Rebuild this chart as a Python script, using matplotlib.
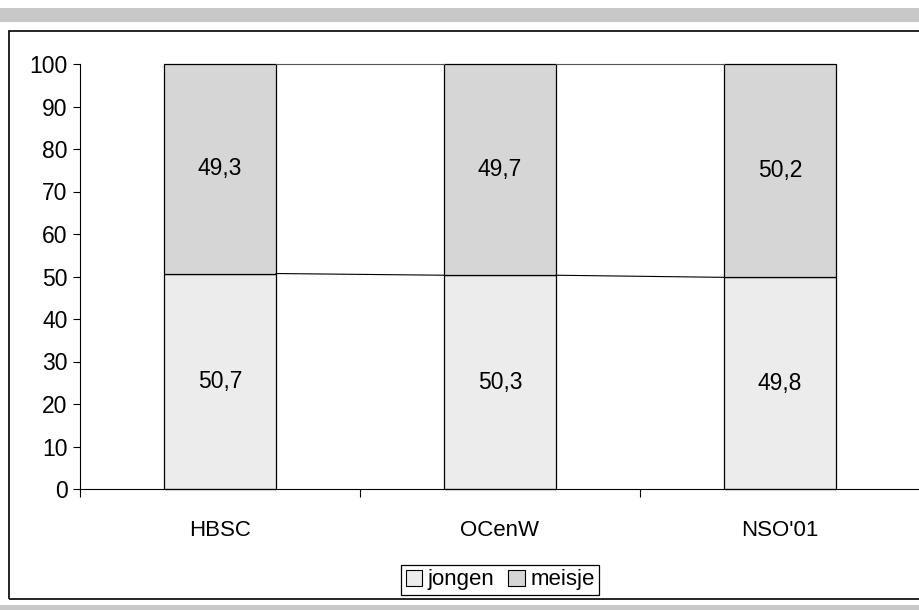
import matplotlib.pyplot as plt
from matplotlib.patches import Patch, Rectangle

plt.rcParams['font.family'] = ['Liberation Sans Narrow', 'Liberation Sans', 'DejaVu Sans']

categories = ['HBSC', 'OCenW', "NSO'01"]
jongen = [50.7, 50.3, 49.8]
meisje = [49.3, 49.7, 50.2]
jongen_labels = ['50,7', '50,3', '49,8']
meisje_labels = ['49,3', '49,7', '50,2']

c_jongen = '#ececec'
c_meisje = '#d6d6d6'

fig = plt.figure(figsize=(9.2, 6.1), dpi=100)

# grey bands and frame
fig.patches.append(Rectangle((0, 1 - 22 / 610), 1, 14 / 610, transform=fig.transFigure,
                             facecolor='#c8c8c8', edgecolor='none', zorder=0))
fig.patches.append(Rectangle((0, 0), 1, 5 / 610, transform=fig.transFigure,
                             facecolor='#c8c8c8', edgecolor='none', zorder=0))
fig.patches.append(Rectangle((9 / 920, 1 - 599 / 610), 1.0, (599 - 31) / 610,
                             transform=fig.transFigure, facecolor='none',
                             edgecolor='black', linewidth=1.2, zorder=0))

ax = fig.add_axes([80 / 920, 1 - 489 / 610, 840 / 920, 425 / 610])
x = range(len(categories))
w = 0.4
ax.bar(x, jongen, w, color=c_jongen, edgecolor='black', linewidth=0.9, clip_on=False)
ax.bar(x, meisje, w, bottom=jongen, color=c_meisje, edgecolor='black', linewidth=0.9, clip_on=False)

# series lines between bars
tops = [j + m for j, m in zip(jongen, meisje)]
for i in range(len(categories) - 1):
    ax.plot([i + w / 2, i + 1 - w / 2], [jongen[i], jongen[i + 1]], color='black', lw=0.8)
    ax.plot([i + w / 2, i + 1 - w / 2], [tops[i], tops[i + 1]], color='#555555', lw=0.8, clip_on=False)

for i in x:
    ax.text(i, jongen[i] / 2, jongen_labels[i], ha='center', va='center', fontsize=16.5,
            family=['Liberation Sans', 'DejaVu Sans'])
    ax.text(i, jongen[i] + meisje[i] / 2, meisje_labels[i], ha='center', va='center', fontsize=16.5,
            family=['Liberation Sans', 'DejaVu Sans'])

ax.set_xlim(-0.5, 2.5)
ax.set_ylim(0, 100)
ax.set_yticks(range(0, 101, 10))
ax.set_xticks([-0.5, 0.5, 1.5, 2.5])
ax.set_xticklabels([])
ax.set_xticks(list(x), minor=True)
ax.set_xticklabels(categories, minor=True)
ax.tick_params(axis='x', which='minor', length=0, pad=22, labelsize=16)
ax.tick_params(axis='x', which='major', length=6, direction='out')
ax.tick_params(axis='y', length=5, direction='out', labelsize=16.5, pad=4)
ax.spines['top'].set_visible(False)
ax.spines['right'].set_visible(False)
ax.set_facecolor('none')

handles = [Patch(facecolor=c_jongen, edgecolor='black', linewidth=0.8),
           Patch(facecolor=c_meisje, edgecolor='black', linewidth=0.8)]
leg = fig.legend(handles, ['jongen', 'meisje'], loc='center', ncol=2,
                 bbox_to_anchor=(500 / 920, 1 - 580 / 610), fontsize=16,
                 handlelength=0.75, handleheight=0.75, handletextpad=0.25,
                 columnspacing=0.6, borderpad=0.2, borderaxespad=0,
                 fancybox=False, framealpha=1)
leg.get_frame().set_edgecolor('black')
leg.get_frame().set_linewidth(0.9)

fig.savefig('out.png', dpi=100)
